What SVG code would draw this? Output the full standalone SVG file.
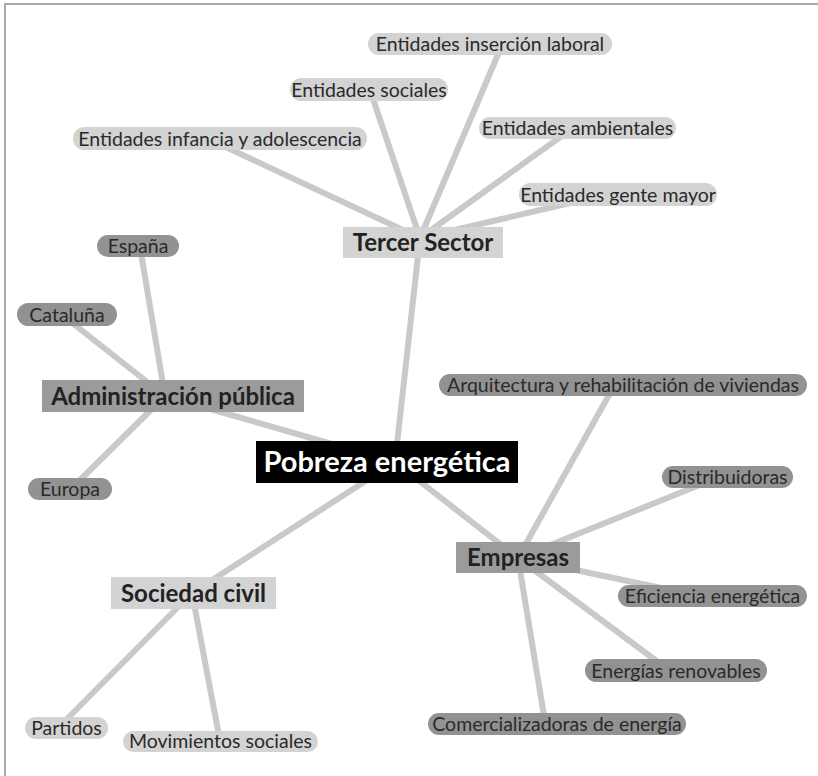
<svg xmlns="http://www.w3.org/2000/svg" width="818" height="776" viewBox="0 0 818 776">
<style>
.frame{fill:none;stroke:#a8a8a8;stroke-width:2}
.con line{stroke:#c9c9c9;stroke-width:6;stroke-linecap:butt}
.pl{fill:#d3d3d3}
.pd{fill:#929292}
.rl{fill:#d3d3d3}
.rd{fill:#9b9b9b}
.t{font-family:"Lato","Liberation Sans",sans-serif;font-size:19.5px;fill:#2a2a2a;text-anchor:middle}
.b{font-family:"Lato","Liberation Sans",sans-serif;font-size:24px;font-weight:bold;fill:#222;text-anchor:middle}
.w{font-family:"Lato","Liberation Sans",sans-serif;font-size:29px;font-weight:bold;fill:#fff;text-anchor:middle}
</style>
<rect width="818" height="776" fill="#fff"/>
<path class="frame" d="M5,776 V4 H818"/>
<g class="con" id="connectors">
<line x1="395" y1="462" x2="420" y2="238"/>
<line x1="395" y1="462" x2="165" y2="396"/>
<line x1="395" y1="462" x2="192" y2="593"/>
<line x1="395" y1="462" x2="518" y2="558"/>
<line x1="420" y1="238" x2="215" y2="142"/>
<line x1="420" y1="238" x2="371" y2="93"/>
<line x1="420" y1="238" x2="502" y2="45"/>
<line x1="420" y1="238" x2="570" y2="130"/>
<line x1="420" y1="238" x2="592" y2="198"/>
<line x1="165" y1="396" x2="140" y2="247"/>
<line x1="165" y1="396" x2="66" y2="318"/>
<line x1="165" y1="396" x2="74" y2="486"/>
<line x1="192" y1="593" x2="60" y2="726"/>
<line x1="192" y1="593" x2="220" y2="741"/>
<line x1="518" y1="558" x2="614" y2="386"/>
<line x1="518" y1="558" x2="712" y2="480"/>
<line x1="518" y1="558" x2="690" y2="594"/>
<line x1="518" y1="558" x2="666" y2="668"/>
<line x1="518" y1="558" x2="545" y2="722"/>
</g>
<g id="n-pobreza"><rect x="256" y="441" width="262" height="42" fill="#000"/><text class="w" x="387" y="472">Pobreza energética</text></g>
<g id="n-tercer"><rect class="rl" x="343" y="227" width="160" height="31"/><text class="b" x="423" y="251">Tercer Sector</text></g>
<g id="n-admin"><rect class="rd" x="42" y="380" width="262" height="32"/><text class="b" x="173" y="405">Administración pública</text></g>
<g id="n-sociedad"><rect class="rl" x="111" y="577" width="165" height="32"/><text class="b" x="193.5" y="602">Sociedad civil</text></g>
<g id="n-empresas"><rect class="rd" x="456" y="542" width="124" height="31"/><text class="b" x="518" y="566">Empresas</text></g>
<g id="n-insercion"><rect class="pl" x="368" y="33" width="244" height="22" rx="11"/><text class="t" x="490" y="51">Entidades inserción laboral</text></g>
<g id="n-sociales"><rect class="pl" x="290" y="78" width="158" height="23" rx="11.5"/><text class="t" x="369" y="96.5">Entidades sociales</text></g>
<g id="n-infancia"><rect class="pl" x="73" y="127" width="294" height="23" rx="11.5"/><text class="t" x="220" y="145.5">Entidades infancia y adolescencia</text></g>
<g id="n-ambientales"><rect class="pl" x="479" y="117" width="197" height="22" rx="11"/><text class="t" x="577.5" y="135">Entidades ambientales</text></g>
<g id="n-gente"><rect class="pl" x="519" y="183" width="198" height="23" rx="11.5"/><text class="t" x="618" y="201.5">Entidades gente mayor</text></g>
<g id="n-espana"><rect class="pd" x="97" y="235" width="82" height="22" rx="11"/><text class="t" x="138" y="253">España</text></g>
<g id="n-cataluna"><rect class="pd" x="17" y="303" width="100" height="23" rx="11.5"/><text class="t" x="67" y="321.5">Cataluña</text></g>
<g id="n-europa"><rect class="pd" x="28" y="478" width="84" height="22" rx="11"/><text class="t" x="70" y="496">Europa</text></g>
<g id="n-arquitectura"><rect class="pd" x="439" y="374" width="368" height="22" rx="11"/><text class="t" x="623" y="392">Arquitectura y rehabilitación de viviendas</text></g>
<g id="n-distribuidoras"><rect class="pd" x="662" y="466" width="131" height="22" rx="11"/><text class="t" x="727.5" y="484">Distribuidoras</text></g>
<g id="n-eficiencia"><rect class="pd" x="618" y="585" width="189" height="22" rx="11"/><text class="t" x="712.5" y="603">Eficiencia energética</text></g>
<g id="n-renovables"><rect class="pd" x="585" y="659" width="182" height="23" rx="11.5"/><text class="t" x="676" y="677.5">Energías renovables</text></g>
<g id="n-comercializadoras"><rect class="pd" x="428" y="713" width="258" height="22" rx="11"/><text class="t" x="557" y="731">Comercializadoras de energía</text></g>
<g id="n-partidos"><rect class="pl" x="25" y="717" width="83" height="22" rx="11"/><text class="t" x="66.5" y="735">Partidos</text></g>
<g id="n-movimientos"><rect class="pl" x="123" y="731" width="195" height="21" rx="10.5"/><text class="t" x="220.5" y="748">Movimientos sociales</text></g>
</svg>
